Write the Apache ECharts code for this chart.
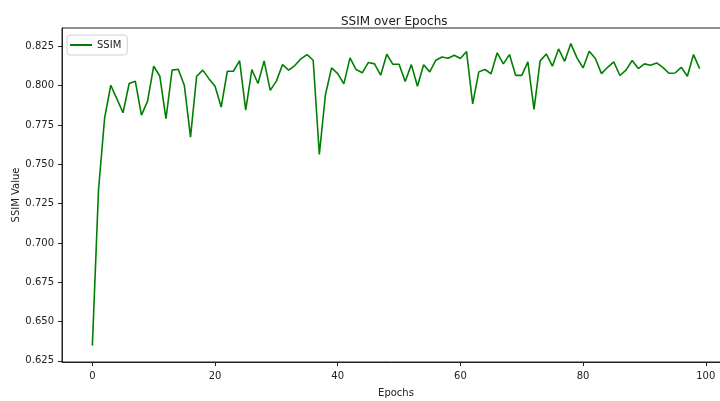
<!DOCTYPE html>
<html>
<head>
<meta charset="utf-8">
<script src="https://cdn.jsdelivr.net/npm/echarts@6/dist/echarts.min.js"></script>
<style>
  html, body { margin: 0; padding: 0; background: #fff; }
  #chart { width: 720px; height: 401px; }
</style>
</head>
<body>
<div id="chart"></div>
<script>
// SSIM per epoch
const ssimValues = [
  0.6347, 0.7335, 0.7796, 0.8003, 0.7916, 0.7828, 0.8014, 0.8029, 0.7813, 0.7902,
  0.8124, 0.8060, 0.7790, 0.8099, 0.8105, 0.8001, 0.7673, 0.8060, 0.8099, 0.8045,
  0.7997, 0.7864, 0.8092, 0.8092, 0.8160, 0.7845, 0.8103, 0.8014, 0.8158, 0.7970,
  0.8029, 0.8134, 0.8099, 0.8128, 0.8171, 0.8198, 0.8162, 0.7563, 0.7944, 0.8113,
  0.8077, 0.8012, 0.8177, 0.8103, 0.8082, 0.8148, 0.8139, 0.8067, 0.8200, 0.8136,
  0.8136, 0.8027, 0.8134, 0.7997, 0.8133, 0.8088, 0.8162, 0.8183, 0.8175, 0.8194,
  0.8173, 0.8217, 0.7885, 0.8088, 0.8103, 0.8076, 0.8209, 0.8139, 0.8198, 0.8066,
  0.8066, 0.8152, 0.7849, 0.8158, 0.8202, 0.8124, 0.8234, 0.8155, 0.8268, 0.8177,
  0.8113, 0.8219, 0.8173, 0.8077, 0.8117, 0.8152, 0.8065, 0.8099, 0.8160, 0.8109,
  0.8139, 0.8130, 0.8145, 0.8117, 0.8079, 0.8081, 0.8117, 0.8060, 0.8198, 0.8109
];
const xTicks = [0, 20, 40, 60, 80, 100];
const yTicks = [0.625, 0.65, 0.675, 0.7, 0.725, 0.75, 0.775, 0.8, 0.825];

const font = "DejaVu Sans";
const ink = "#222";

const chart = echarts.init(document.getElementById("chart"));
const option = {
  animation: false,
  textStyle: { fontFamily: font },
  title: {
    text: "SSIM over Epochs",
    left: 336,
    top: 11,
    textStyle: { fontFamily: font, fontSize: 12, fontWeight: "normal", color: ink },
  },
  legend: {
    left: 67,
    top: 35,
    padding: [5, 6, 5, 3],
    itemWidth: 22,
    itemHeight: 2,
    icon: "rect",
    borderColor: "#d0d0d0",
    borderWidth: 1,
    borderRadius: 3,
    backgroundColor: "#fff",
    textStyle: { fontFamily: font, fontSize: 10, color: ink },
    data: ["SSIM"],
  },
  grid: {
    left: 62,
    right: -10,
    top: 28,
    bottom: 39,
    outerBoundsMode: "none",
    containLabel: false,
    show: true,
    borderColor: ink,
    borderWidth: 1,
  },
  xAxis: {
    type: "value",
    min: -4.95,
    max: 103.95,
    name: "Epochs",
    nameLocation: "middle",
    nameGap: 26,
    nameMoveOverlap: false,
    nameTextStyle: { fontFamily: font, fontSize: 10, color: ink },
    axisLine: { show: true, onZero: false, lineStyle: { color: ink, width: 1 } },
    axisTick: { show: true, length: 4, inside: false, customValues: xTicks, lineStyle: { color: ink } },
    axisLabel: { customValues: xTicks, margin: 9, fontSize: 10, color: ink, fontFamily: font },
    splitLine: { show: false },
  },
  yAxis: {
    type: "value",
    min: 0.6243,
    max: 0.8367,
    name: "SSIM Value",
    nameLocation: "middle",
    nameGap: 41,
    nameMoveOverlap: false,
    nameTextStyle: { fontFamily: font, fontSize: 10, color: ink },
    axisLine: { show: true, onZero: false, lineStyle: { color: ink, width: 1 } },
    axisTick: { show: true, length: 4, inside: false, customValues: yTicks, lineStyle: { color: ink } },
    axisLabel: {
      customValues: yTicks,
      margin: 8,
      fontSize: 10,
      color: ink,
      fontFamily: font,
      formatter: (v) => v.toFixed(3),
    },
    splitLine: { show: false },
  },
  series: [
    {
      name: "SSIM",
      type: "line",
      data: ssimValues.map((v, i) => [i, v]),
      showSymbol: false,
      symbol: "none",
      lineStyle: { color: "#008000", width: 1.6 },
      itemStyle: { color: "#008000" },
    },
  ],
};
chart.setOption(option);
</script>
</body>
</html>
